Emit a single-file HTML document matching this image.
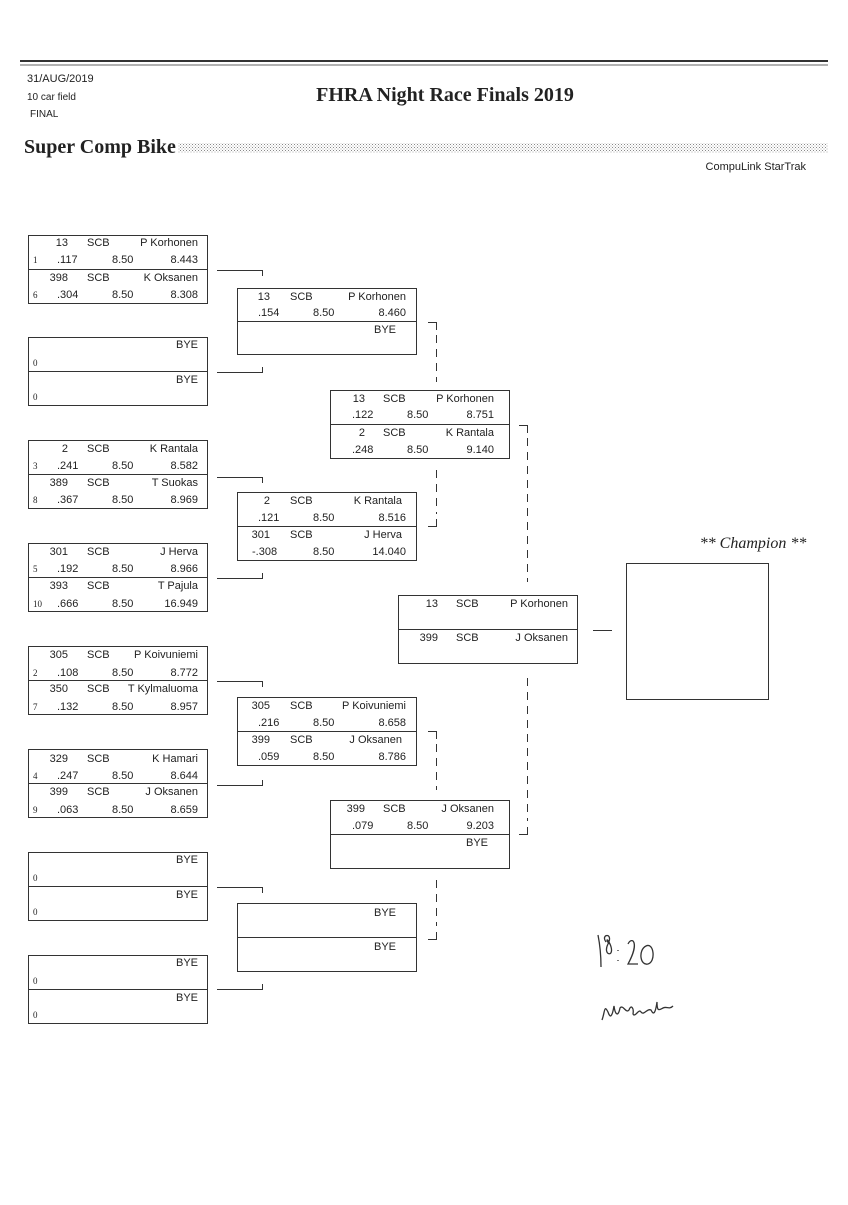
<!DOCTYPE html>
<html><head><meta charset="utf-8"><style>
body{margin:0;background:#fff;width:848px;height:1200px;overflow:hidden}
svg text{font-family:"Liberation Sans",sans-serif;font-size:11px;fill:#222}
.s{font-family:"Liberation Serif",serif;font-size:9px}
.e{text-anchor:end}
</style></head><body>
<svg width="848" height="1200" xmlns="http://www.w3.org/2000/svg">
<defs><pattern id="dp" width="3" height="3" patternUnits="userSpaceOnUse"><rect width="1" height="1" fill="#888"/><rect x="1.5" y="1.5" width="1" height="1" fill="#aaa"/></pattern></defs>
<line x1="20" y1="61" x2="828" y2="61" stroke="#333" stroke-width="2"/>
<line x1="20" y1="65" x2="828" y2="65" stroke="#666" stroke-width="1"/>
<text x="27" y="82" style="font-size:11px">31/AUG/2019</text>
<text x="27" y="100" style="font-size:10px">10 car field</text>
<text x="30" y="117" style="font-size:10px">FINAL</text>
<text x="445" y="101" text-anchor="middle" style="font-family:'Liberation Serif',serif;font-weight:bold;font-size:20px">FHRA Night Race Finals 2019</text>
<text x="24" y="153" style="font-family:'Liberation Serif',serif;font-weight:bold;font-size:20px">Super Comp Bike</text>
<rect x="178" y="143" width="650" height="10" fill="url(#dp)"/>
<text x="806" y="170" class="e" style="font-size:11px">CompuLink StarTrak</text>

<g fill="none" stroke="#333" stroke-width="1">
<rect x="28.5" y="235.5" width="179" height="68"/><line x1="28" y1="269.5" x2="208" y2="269.5"/>
<rect x="28.5" y="337.5" width="179" height="68"/><line x1="28" y1="371.5" x2="208" y2="371.5"/>
<rect x="28.5" y="440.5" width="179" height="68"/><line x1="28" y1="474.5" x2="208" y2="474.5"/>
<rect x="28.5" y="543.5" width="179" height="68"/><line x1="28" y1="577.5" x2="208" y2="577.5"/>
<rect x="28.5" y="646.5" width="179" height="68"/><line x1="28" y1="680.5" x2="208" y2="680.5"/>
<rect x="28.5" y="749.5" width="179" height="68"/><line x1="28" y1="783.5" x2="208" y2="783.5"/>
<rect x="28.5" y="852.5" width="179" height="68"/><line x1="28" y1="886.5" x2="208" y2="886.5"/>
<rect x="28.5" y="955.5" width="179" height="68"/><line x1="28" y1="989.5" x2="208" y2="989.5"/>
<rect x="237.5" y="288.5" width="179" height="66"/><line x1="237" y1="321.5" x2="417" y2="321.5"/>
<rect x="237.5" y="492.5" width="179" height="68"/><line x1="237" y1="526.5" x2="417" y2="526.5"/>
<rect x="237.5" y="697.5" width="179" height="68"/><line x1="237" y1="731.5" x2="417" y2="731.5"/>
<rect x="237.5" y="903.5" width="179" height="68"/><line x1="237" y1="937.5" x2="417" y2="937.5"/>
<rect x="330.5" y="390.5" width="179" height="68"/><line x1="330" y1="424.5" x2="510" y2="424.5"/>
<rect x="330.5" y="800.5" width="179" height="68"/><line x1="330" y1="834.5" x2="510" y2="834.5"/>
<rect x="398.5" y="595.5" width="179" height="68"/><line x1="398" y1="629.5" x2="578" y2="629.5"/>
<rect x="626.5" y="563.5" width="142" height="136"/>
<path d="M217 270.5H262.5V276M217 372.5H262.5V367"/>
<path d="M217 477.5H262.5V483M217 578.5H262.5V573"/>
<path d="M217 681.5H262.5V687M217 785.5H262.5V780"/>
<path d="M217 887.5H262.5V893M217 989.5H262.5V984"/>
<path d="M428 322.5H436.5V330"/><line x1="436.5" y1="335" x2="436.5" y2="382" stroke-dasharray="8,6"/>
<path d="M428 526.5H436.5V519"/><line x1="436.5" y1="470" x2="436.5" y2="514" stroke-dasharray="8,6"/>
<path d="M428 731.5H436.5V739"/><line x1="436.5" y1="744" x2="436.5" y2="790" stroke-dasharray="8,6"/>
<path d="M428 939.5H436.5V932"/><line x1="436.5" y1="880" x2="436.5" y2="926" stroke-dasharray="8,6"/>
<path d="M519 425.5H527.5V433"/><line x1="527.5" y1="438" x2="527.5" y2="582" stroke-dasharray="8,6"/>
<path d="M519 834.5H527.5V827"/><line x1="527.5" y1="678" x2="527.5" y2="821" stroke-dasharray="8,6"/>
<line x1="593" y1="630.5" x2="612" y2="630.5"/>
<path d="M598 935c2 10 3 20 3 32M606 942c-6-8 8-10 2 2c-6 12 8 14 2 0c-4-8-4-2 0 0M618 950v1M618 960v1M628 944c4-8 12-2 0 20h10M646 946c-8 4-6 20 2 18c8-2 6-22-2-18" stroke-width="1.3"/>
<path d="M602 1020c3-8 2-16 6-8c2 6 4 6 6-6c1 8 4 12 6 2c3-4 6 6 9 2c2-6 5-2 4 4c2 4 6-6 8-2c3 4 6-4 10-2c2 4 4 6 6-8c0 10 2 8 6 6c4-2 6 2 10-2" stroke-width="1.3"/>
</g>

<text x="753" y="548" text-anchor="middle" style="font-family:'Liberation Serif',serif;font-style:italic;font-size:16px">** Champion **</text>

<!-- R1 -->
<text x="68" y="246" class="e">13</text><text x="87" y="246">SCB</text><text x="198" y="246" class="e">P Korhonen</text>
<text x="33" y="263" class="s">1</text><text x="57" y="263">.117</text><text x="112" y="263">8.50</text><text x="198" y="263" class="e">8.443</text>
<text x="68" y="281" class="e">398</text><text x="87" y="281">SCB</text><text x="198" y="281" class="e">K Oksanen</text>
<text x="33" y="298" class="s">6</text><text x="57" y="298">.304</text><text x="112" y="298">8.50</text><text x="198" y="298" class="e">8.308</text>

<text x="198" y="348" class="e">BYE</text><text x="33" y="366" class="s">0</text>
<text x="198" y="383" class="e">BYE</text><text x="33" y="400" class="s">0</text>

<text x="68" y="452" class="e">2</text><text x="87" y="452">SCB</text><text x="198" y="452" class="e">K Rantala</text>
<text x="33" y="469" class="s">3</text><text x="57" y="469">.241</text><text x="112" y="469">8.50</text><text x="198" y="469" class="e">8.582</text>
<text x="68" y="486" class="e">389</text><text x="87" y="486">SCB</text><text x="198" y="486" class="e">T Suokas</text>
<text x="33" y="503" class="s">8</text><text x="57" y="503">.367</text><text x="112" y="503">8.50</text><text x="198" y="503" class="e">8.969</text>

<text x="68" y="555" class="e">301</text><text x="87" y="555">SCB</text><text x="198" y="555" class="e">J Herva</text>
<text x="33" y="572" class="s">5</text><text x="57" y="572">.192</text><text x="112" y="572">8.50</text><text x="198" y="572" class="e">8.966</text>
<text x="68" y="589" class="e">393</text><text x="87" y="589">SCB</text><text x="198" y="589" class="e">T Pajula</text>
<text x="33" y="607" class="s">10</text><text x="57" y="607">.666</text><text x="112" y="607">8.50</text><text x="198" y="607" class="e">16.949</text>

<text x="68" y="658" class="e">305</text><text x="87" y="658">SCB</text><text x="198" y="658" class="e">P Koivuniemi</text>
<text x="33" y="676" class="s">2</text><text x="57" y="676">.108</text><text x="112" y="676">8.50</text><text x="198" y="676" class="e">8.772</text>
<text x="68" y="692" class="e">350</text><text x="87" y="692">SCB</text><text x="198" y="692" class="e">T Kylmaluoma</text>
<text x="33" y="710" class="s">7</text><text x="57" y="710">.132</text><text x="112" y="710">8.50</text><text x="198" y="710" class="e">8.957</text>

<text x="68" y="762" class="e">329</text><text x="87" y="762">SCB</text><text x="198" y="762" class="e">K Hamari</text>
<text x="33" y="779" class="s">4</text><text x="57" y="779">.247</text><text x="112" y="779">8.50</text><text x="198" y="779" class="e">8.644</text>
<text x="68" y="795" class="e">399</text><text x="87" y="795">SCB</text><text x="198" y="795" class="e">J Oksanen</text>
<text x="33" y="813" class="s">9</text><text x="57" y="813">.063</text><text x="112" y="813">8.50</text><text x="198" y="813" class="e">8.659</text>

<text x="198" y="863" class="e">BYE</text><text x="33" y="881" class="s">0</text>
<text x="198" y="898" class="e">BYE</text><text x="33" y="915" class="s">0</text>
<text x="198" y="966" class="e">BYE</text><text x="33" y="984" class="s">0</text>
<text x="198" y="1001" class="e">BYE</text><text x="33" y="1018" class="s">0</text>

<!-- R2 -->
<text x="270" y="300" class="e">13</text><text x="290" y="300">SCB</text><text x="406" y="300" class="e">P Korhonen</text>
<text x="258" y="316">.154</text><text x="313" y="316">8.50</text><text x="406" y="316" class="e">8.460</text>
<text x="396" y="333" class="e">BYE</text>

<text x="270" y="504" class="e">2</text><text x="290" y="504">SCB</text><text x="402" y="504" class="e">K Rantala</text>
<text x="258" y="521">.121</text><text x="313" y="521">8.50</text><text x="406" y="521" class="e">8.516</text>
<text x="270" y="538" class="e">301</text><text x="290" y="538">SCB</text><text x="402" y="538" class="e">J Herva</text>
<text x="252" y="555">-.308</text><text x="313" y="555">8.50</text><text x="406" y="555" class="e">14.040</text>

<text x="270" y="709" class="e">305</text><text x="290" y="709">SCB</text><text x="406" y="709" class="e">P Koivuniemi</text>
<text x="258" y="726">.216</text><text x="313" y="726">8.50</text><text x="406" y="726" class="e">8.658</text>
<text x="270" y="743" class="e">399</text><text x="290" y="743">SCB</text><text x="402" y="743" class="e">J Oksanen</text>
<text x="258" y="760">.059</text><text x="313" y="760">8.50</text><text x="406" y="760" class="e">8.786</text>

<text x="396" y="916" class="e">BYE</text>
<text x="396" y="950" class="e">BYE</text>

<!-- R3 -->
<text x="365" y="402" class="e">13</text><text x="383" y="402">SCB</text><text x="494" y="402" class="e">P Korhonen</text>
<text x="352" y="418">.122</text><text x="407" y="418">8.50</text><text x="494" y="418" class="e">8.751</text>
<text x="365" y="436" class="e">2</text><text x="383" y="436">SCB</text><text x="494" y="436" class="e">K Rantala</text>
<text x="352" y="453">.248</text><text x="407" y="453">8.50</text><text x="494" y="453" class="e">9.140</text>

<text x="365" y="812" class="e">399</text><text x="383" y="812">SCB</text><text x="494" y="812" class="e">J Oksanen</text>
<text x="352" y="829">.079</text><text x="407" y="829">8.50</text><text x="494" y="829" class="e">9.203</text>
<text x="488" y="846" class="e">BYE</text>

<!-- Final -->
<text x="438" y="607" class="e">13</text><text x="456" y="607">SCB</text><text x="568" y="607" class="e">P Korhonen</text>
<text x="438" y="641" class="e">399</text><text x="456" y="641">SCB</text><text x="568" y="641" class="e">J Oksanen</text>
</svg>
</body></html>
